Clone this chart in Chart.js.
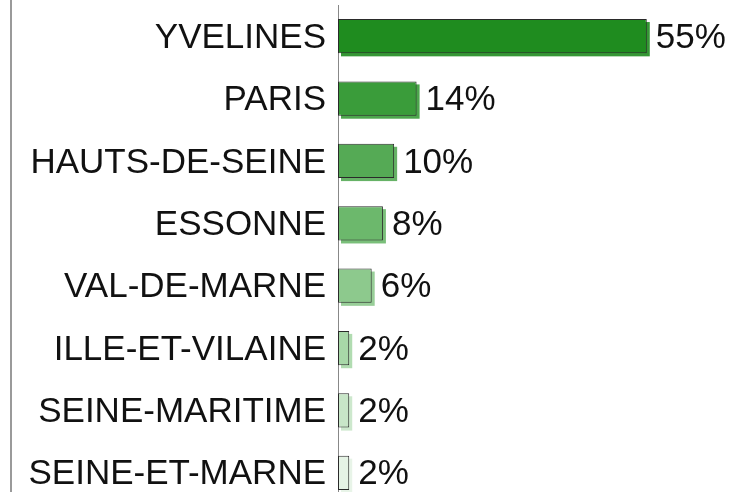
<!DOCTYPE html>
<html>
<head>
<meta charset="utf-8">
<script src="https://cdn.jsdelivr.net/npm/chart.js@4/dist/chart.umd.min.js"></script>
<style>
  html, body { margin: 0; padding: 0; background: #fff; overflow: hidden; }
  #wrap { position: relative; width: 731px; height: 504px; }
  #edge { position: absolute; left: 10px; top: 0; width: 0; height: 492px; border-left: 2px solid #9a9a9a; }
</style>
</head>
<body>
<div id="wrap">
  <canvas id="c"></canvas>
  <div id="edge"></div>
</div>
<script>
const categories = ["YVELINES", "PARIS", "HAUTS-DE-SEINE", "ESSONNE", "VAL-DE-MARNE", "ILLE-ET-VILAINE", "SEINE-MARITIME", "SEINE-ET-MARNE"];
const shares = [55, 14, 10, 8, 6, 2, 2, 2];
const valueLabels = ["55%", "14%", "10%", "8%", "6%", "2%", "2%", "2%"];
const barColors = ["#1f8c1f", "#3a9c3a", "#55aa55", "#6cb86c", "#8dc98d", "#a8d8a8", "#c8e6c8", "#e5f3e5"];

const FONT = "'Liberation Sans', Arial, sans-serif";

const shadowPlugin = {
  id: 'barShadow',
  beforeDatasetsDraw(chart) {
    const ctx = chart.ctx;
    const meta = chart.getDatasetMeta(0);
    ctx.save();
    meta.data.forEach((bar, i) => {
      const left = Math.min(bar.x, bar.base);
      const w = Math.abs(bar.x - bar.base);
      const top = bar.y - bar.height / 2;
      ctx.globalAlpha = 0.9;
      ctx.fillStyle = barColors[i];
      ctx.fillRect(left + 3, top + 3, w, bar.height);
    });
    ctx.restore();
  }
};

const valueLabelPlugin = {
  id: 'valueLabels',
  afterDatasetsDraw(chart) {
    const ctx = chart.ctx;
    const meta = chart.getDatasetMeta(0);
    ctx.save();
    ctx.font = "35px " + FONT;
    ctx.fillStyle = "#111";
    ctx.textAlign = "left";
    ctx.textBaseline = "middle";
    meta.data.forEach((bar, i) => {
      ctx.fillText(valueLabels[i], bar.x + 9, bar.y + 2);
    });
    ctx.restore();
  }
};

new Chart(document.getElementById('c'), {
  type: 'bar',
  data: {
    labels: categories,
    datasets: [{
      data: shares,
      backgroundColor: barColors,
      borderColor: "#2a2a2a",
      borderWidth: 1,
      borderSkipped: false,
      categoryPercentage: 1,
      barPercentage: 0.55
    }]
  },
  options: {
    indexAxis: 'y',
    responsive: true,
    maintainAspectRatio: false,
    animation: false,
    layout: { padding: { top: 5, bottom: 0, left: 0, right: 0 } },
    plugins: { legend: { display: false }, tooltip: { enabled: false } },
    scales: {
      x: { display: false, min: 0, max: 70 },
      y: {
        afterFit(scale) { scale.width = 338; scale.paddingTop = 0; scale.paddingBottom = 0; },
        grid: { display: false, drawTicks: false },
        border: { display: true, color: "#888", width: 1 },
        ticks: { color: "#111", padding: 12, labelOffset: 2, font: { size: 35, family: FONT } }
      }
    }
  },
  plugins: [shadowPlugin, valueLabelPlugin]
});
</script>
</body>
</html>
